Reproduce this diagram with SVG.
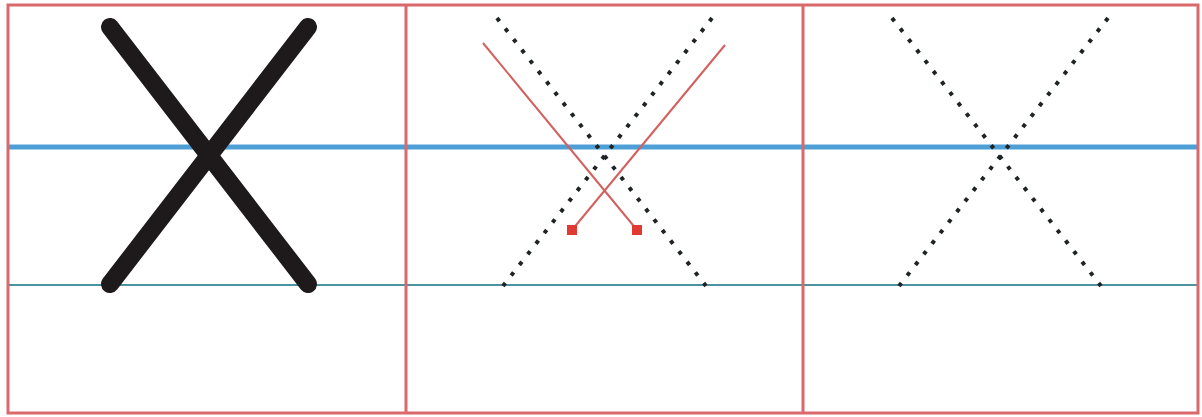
<svg xmlns="http://www.w3.org/2000/svg" width="1202" height="417" viewBox="0 0 1202 417">
<style>
.frame{fill:none;stroke:#d9696b;stroke-width:3}
.guideThick{stroke:#4d9fd6;stroke-width:5}
.guideThin{stroke:#4a939f;stroke-width:2}
.solid{stroke:#1e1a1c;stroke-width:18;stroke-linecap:round}
.dots{stroke:#1e2326;stroke-width:4;stroke-dasharray:4 9.44}
.arrow{stroke:#d2605e;stroke-width:2;fill:none}
</style>
<defs>
<marker id="sq" viewBox="0 0 10 10" refX="5" refY="5" markerWidth="5" markerHeight="5" orient="0">
<rect x="0" y="0" width="10" height="10" fill="#e03a32"/>
</marker>
</defs>
<rect width="1202" height="417" fill="#ffffff"/>
<g id="guides">
<line class="guideThick" x1="8" y1="147" x2="1198" y2="147"/>
<line class="guideThin" x1="8" y1="285" x2="1198" y2="285"/>
</g>
<g id="panel1">
<line class="solid" x1="110" y1="27" x2="308" y2="284"/>
<line class="solid" x1="308" y1="27" x2="110" y2="284"/>
</g>
<g id="panel2">
<line class="dots" x1="497" y1="18" x2="706" y2="286"/>
<line class="dots" x1="712" y1="18" x2="503" y2="286"/>
</g>
<g id="connectors">
<line class="arrow" x1="483" y1="43" x2="637" y2="230" marker-end="url(#sq)"/>
<line class="arrow" x1="725" y1="45" x2="572" y2="230" marker-end="url(#sq)"/>
</g>
<g id="panel3">
<line class="dots" x1="892" y1="18" x2="1101" y2="286"/>
<line class="dots" x1="1108" y1="18" x2="899" y2="286"/>
</g>
<g id="frame">
<rect class="frame" x="8" y="5" width="1190" height="408"/>
<line class="frame" x1="406" y1="5" x2="406" y2="413"/>
<line class="frame" x1="803" y1="5" x2="803" y2="413"/>
</g>
</svg>
